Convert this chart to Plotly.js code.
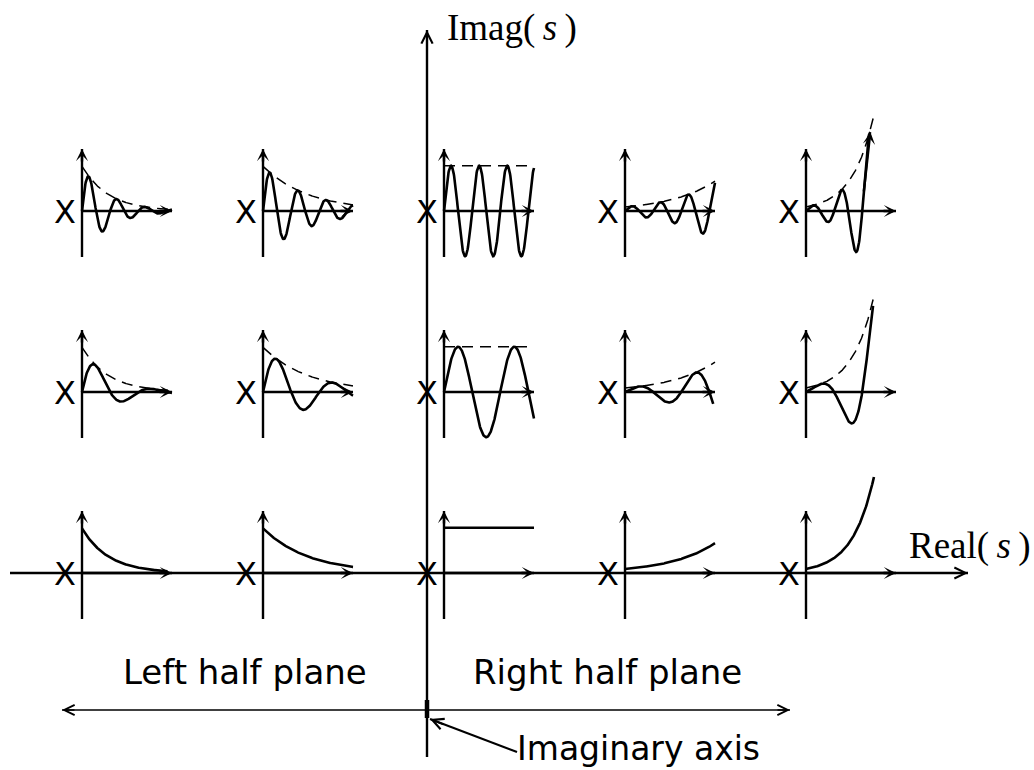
<!DOCTYPE html>
<html><head><meta charset="utf-8">
<script src="https://cdn.plot.ly/plotly-3.0.1.min.js"></script>
<style>html,body{margin:0;padding:0;background:#fff}#chart{width:1034px;height:770px}</style>
</head><body><div id="chart"></div>
<script>
// ---- data: pole locations in the s-plane ----
const poleReal = [-2, -1, 0, 1, 2];   // columns (left to right)
const poleImag = [2, 1, 0];           // rows (top to bottom)
// ---- data: impulse-response shapes (time unit = one panel time axis) ----
const envelopeRate = [-3.4, -2.0, 0, 2.0, 4.2];        // exponential rate per column
const oscCycles = [3.2, 1.6, 0];                       // oscillation cycles per unit time, per row
const startHeight = [0.72, 0.72, 0.73, 0.065, 0.065];  // envelope at t=0 (units of upper panel axis)
const endTime = [[1, 1, 1, 1, 0.715], [1, 1, 1, 0.98, 0.745], [0.95, 1, 1, 1, 0.755]];
const envelopeEndTime = [1, 1, 1, 1, 0.75];            // dashed envelope length per column
// ---- text ----
const poleMark = 'X';
const realLabel = 'Real(\u2009<i>s</i>\u2009)';
const imagLabel = 'Imag(\u2009<i>s</i>\u2009)';
const lhpLabel = 'Left half plane';
const rhpLabel = 'Right half plane';
const axisNote = 'Imaginary axis';

// ---- layout constants (pixels) ----
const W = 1034, H = 770;
const OX = 427, OY = 573, UNIT = 181;
const PANEL_DX = 17, T_LEN = 90, Y_UP = 62, Y_DOWN = 46;
const BLACK = '#000';

const px = s => OX + UNIT * s;
const py = w => OY - UNIT * w;

const traces = [];
const annotations = [];

function line(xs, ys, width, dash) {
  traces.push({x: xs, y: ys, mode: 'lines', hoverinfo: 'skip',
    line: {color: BLACK, width: width, dash: dash || 'solid', shape: 'linear'}});
}
function head(x, y, ax, ay, style, width, size) {
  annotations.push({x: x, y: y, ax: ax, ay: ay, xref: 'x', yref: 'y', axref: 'x', ayref: 'y',
    text: '', showarrow: true, arrowhead: style, arrowsize: size, arrowwidth: width, arrowcolor: BLACK, standoff: 0});
}

// main axes
const realLeft = 10, realRight = 968, imagTop = 30, imagBottom = 757;
line([realLeft, realRight], [OY, OY], 2.4);
head(realRight, OY, realRight - 14, OY, 5, 2.0, 1.1);
line([OX, OX], [imagBottom, imagTop], 2.4);
head(OX, imagTop, OX, imagTop + 14, 5, 2.0, 1.1);

// panels
poleImag.forEach((w, r) => {
  poleReal.forEach((s, c) => {
    const cx = px(s), cy = py(w);
    const ox = cx + PANEL_DX, oy = cy;
    // pole marker
    annotations.push({x: cx, y: cy + 1, xref: 'x', yref: 'y', text: poleMark, showarrow: false,
      font: {family: 'DejaVu Sans', size: 32, color: BLACK}, xanchor: 'center', yanchor: 'middle'});
    // panel axes
    line([ox, ox], [oy + Y_DOWN, oy - Y_UP], 2.4);
    head(ox, oy - Y_UP, ox, oy - Y_UP + 14, 3, 2.4, 0.85);
    line([ox, ox + T_LEN], [oy, oy], 2.4);
    head(ox + T_LEN, oy, ox + T_LEN - 14, oy, 3, 2.4, 0.85);
    // response
    const g = envelopeRate[c], f = oscCycles[r], A = startHeight[c], tEnd = endTime[r][c];
    const n = 240;
    const xs = [], ys = [], ex = [], ey = [];
    for (let i = 0; i <= n; i++) {
      const t = tEnd * i / n;
      const v = f > 0 ? A * Math.exp(g * t) * Math.sin(2 * Math.PI * f * t) : A * Math.exp(g * t);
      xs.push(ox + T_LEN * t); ys.push(oy - Y_UP * v);
      const te = envelopeEndTime[c] * i / n;
      ex.push(ox + T_LEN * te); ey.push(oy - Y_UP * A * Math.exp(g * te));
    }
    if (f > 0) line(ex, ey, 1.5, '11px,7px');
    line(xs, ys, 2.6);
    if (r === 0 && c === poleReal.length - 1) {
      const k = xs.length - 1;
      head(xs[k], ys[k], xs[k - 25], ys[k - 25], 3, 2.4, 0.85);
    }
  });
});

// bottom double arrow and imaginary-axis marker
const spanY = 710, spanL = 62, spanR = 790;
line([spanL, spanR], [spanY, spanY], 1.7);
head(spanR, spanY, spanR - 14, spanY, 5, 1.7, 1.2);
head(spanL, spanY, spanL + 14, spanY, 5, 1.7, 1.2);
line([OX, OX], [700, 718], 4.5);
line([430, 517], [719, 752], 2);
head(430, 719, 445, 725, 5, 2, 1.1);

// labels
annotations.push({x: 445, y: 28, xref: 'x', yref: 'y', text: imagLabel, showarrow: false,
  font: {family: 'Liberation Serif', size: 37, color: BLACK}, xanchor: 'left', yanchor: 'middle'});
annotations.push({x: 907, y: 546, xref: 'x', yref: 'y', text: realLabel, showarrow: false,
  font: {family: 'Liberation Serif', size: 37, color: BLACK}, xanchor: 'left', yanchor: 'middle'});
annotations.push({x: 245, y: 672, xref: 'x', yref: 'y', text: lhpLabel, showarrow: false,
  font: {family: 'DejaVu Sans', size: 34, color: BLACK}, xanchor: 'center', yanchor: 'middle'});
annotations.push({x: 607, y: 672, xref: 'x', yref: 'y', text: rhpLabel, showarrow: false,
  font: {family: 'DejaVu Sans', size: 34, color: BLACK}, xanchor: 'center', yanchor: 'middle'});
annotations.push({x: 515, y: 770, xref: 'x', yref: 'y', text: axisNote, showarrow: false,
  font: {family: 'DejaVu Sans', size: 33, color: BLACK}, xanchor: 'left', yanchor: 'bottom'});

const layout = {
  width: W, height: H, margin: {l: 0, r: 0, t: 0, b: 0},
  paper_bgcolor: '#fff', plot_bgcolor: '#fff', showlegend: false,
  xaxis: {range: [0, W], visible: false, fixedrange: true},
  yaxis: {range: [H, 0], visible: false, fixedrange: true},
  annotations: annotations
};
Plotly.newPlot('chart', traces, layout, {staticPlot: true, displayModeBar: false});
</script></body></html>
